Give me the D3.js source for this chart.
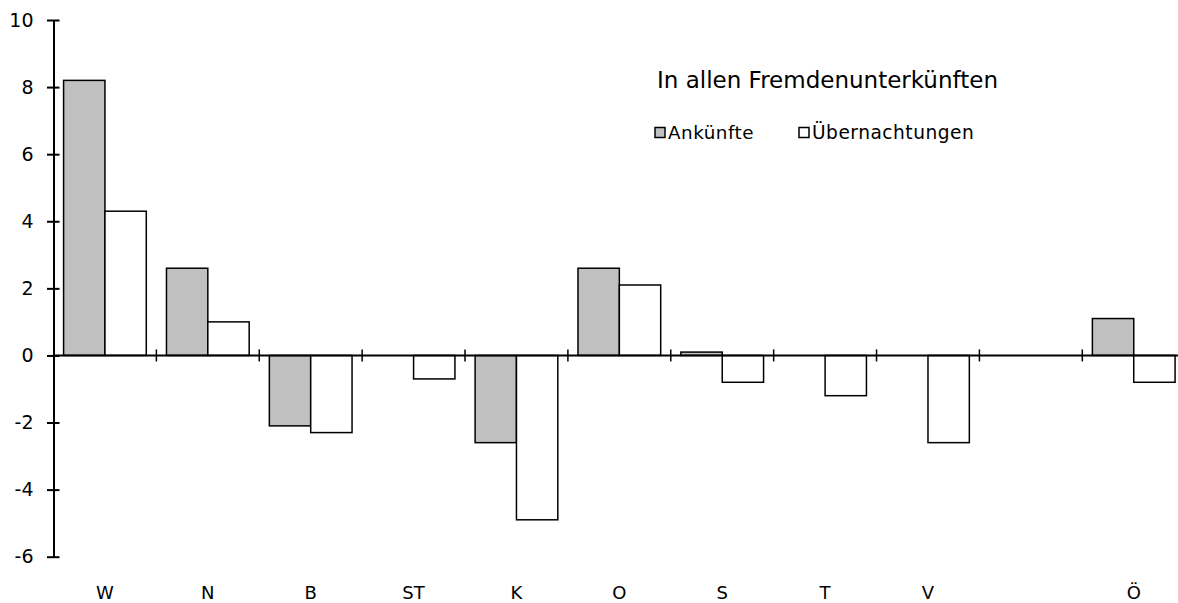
<!DOCTYPE html>
<html>
<head>
<meta charset="utf-8">
<script src="https://cdn.jsdelivr.net/npm/d3@7/dist/d3.min.js"></script>
<style>
  html, body { margin: 0; padding: 0; background: #fff; }
  svg { display: block; font-family: "DejaVu Sans", sans-serif; }
</style>
</head>
<body>
<svg id="chart" width="1178" height="603"></svg>
<script>
const categories = ["W", "N", "B", "ST", "K", "O", "S", "T", "V", "", "Ö"];
const ankuenfte = [8.2, 2.6, -2.1, null, -2.6, 2.6, 0.1, null, null, null, 1.1];
const uebernachtungen = [4.3, 1.0, -2.3, -0.7, -4.9, 2.1, -0.8, -1.2, -2.6, null, -0.8];
const seriesNames = ["Ankünfte", "Übernachtungen"];
const yTicks = [-6, -4, -2, 0, 2, 4, 6, 8, 10];
const titleText = "In allen Fremdenunterkünften";

const svg = d3.select("#chart");
const W = 1178, H = 603;
const x0 = 53.5, step = 102.88;
const keys = categories.map((c, i) => "c" + i);

const x = d3.scaleBand().domain(keys).range([x0, x0 + step * categories.length]).padding(0);
const xs = d3.scaleBand().domain(seriesNames).range([0, x.bandwidth()]).paddingInner(0).paddingOuter(0.244);
const y = d3.scaleLinear().domain([-6, 10]).range([556.7, 20]);

const fills = { "Ankünfte": "#c0c0c0", "Übernachtungen": "#ffffff" };
const data = categories.map((c, i) => ({ key: keys[i], cat: c, values: [
  { s: "Ankünfte", v: ankuenfte[i] },
  { s: "Übernachtungen", v: uebernachtungen[i] }
]}));

// bars
const g = svg.append("g");
const groups = g.selectAll("g.cat").data(data).join("g")
  .attr("transform", d => `translate(${x(d.key)},0)`);
groups.selectAll("rect").data(d => d.values.filter(v => v.v !== null)).join("rect")
  .attr("x", d => xs(d.s))
  .attr("width", xs.bandwidth())
  .attr("y", d => y(Math.max(0, d.v)))
  .attr("height", d => Math.abs(y(d.v) - y(0)))
  .attr("fill", d => fills[d.s])
  .attr("stroke", "#000")
  .attr("stroke-width", 1.5);

// y axis
const yAxis = d3.axisLeft(y).tickValues(yTicks).tickSize(0).tickPadding(20).tickFormat(d => String(d));
const ya = svg.append("g").attr("transform", `translate(${x0},0)`).call(yAxis);
ya.select(".domain").attr("stroke", "#000").attr("stroke-width", 2);
ya.selectAll(".tick text").attr("font-size", 19).attr("fill", "#000").attr("font-family", "DejaVu Sans");
ya.selectAll(".tick").append("line").attr("x1", -6.5).attr("x2", 6).attr("stroke", "#000").attr("stroke-width", 2);

// zero line with category boundary ticks
const xa = svg.append("g").attr("transform", `translate(0,${y(0)})`);
xa.append("line").attr("x1", x0).attr("x2", W).attr("stroke", "#000").attr("stroke-width", 2);
xa.selectAll("line.bt").data(keys.slice(1)).join("line").attr("class", "bt")
  .attr("x1", d => x(d)).attr("x2", d => x(d))
  .attr("y1", -6).attr("y2", 6).attr("stroke", "#000").attr("stroke-width", 1.5);

// category labels
svg.append("g").selectAll("text").data(data).join("text")
  .attr("x", d => x(d.key) + x.bandwidth() / 2)
  .attr("y", 599)
  .attr("text-anchor", "middle")
  .attr("font-size", 18)
  .attr("fill", "#000")
  .text(d => d.cat);

function fitText(sel, width) {
  const w = sel.node().getComputedTextLength();
  const fs = parseFloat(sel.attr("font-size"));
  sel.attr("font-size", fs * width / w);
}

// title
const t = svg.append("text").attr("x", 657).attr("y", 88).attr("font-size", 22).attr("fill", "#000").text(titleText);
fitText(t, 341);

// legend
const legendX = [655, 799];
const legendW = [87, 164];
seriesNames.forEach((s, i) => {
  svg.append("rect").attr("x", legendX[i]).attr("y", 127.5).attr("width", 10).attr("height", 10)
    .attr("fill", fills[s]).attr("stroke", "#000").attr("stroke-width", 1.5);
  const lt = svg.append("text").attr("x", legendX[i] + 13).attr("y", 139).attr("font-size", 15)
    .attr("fill", "#000").attr("letter-spacing", 0.5).text(s);
  fitText(lt, legendW[i]);
});
</script>
</body>
</html>
